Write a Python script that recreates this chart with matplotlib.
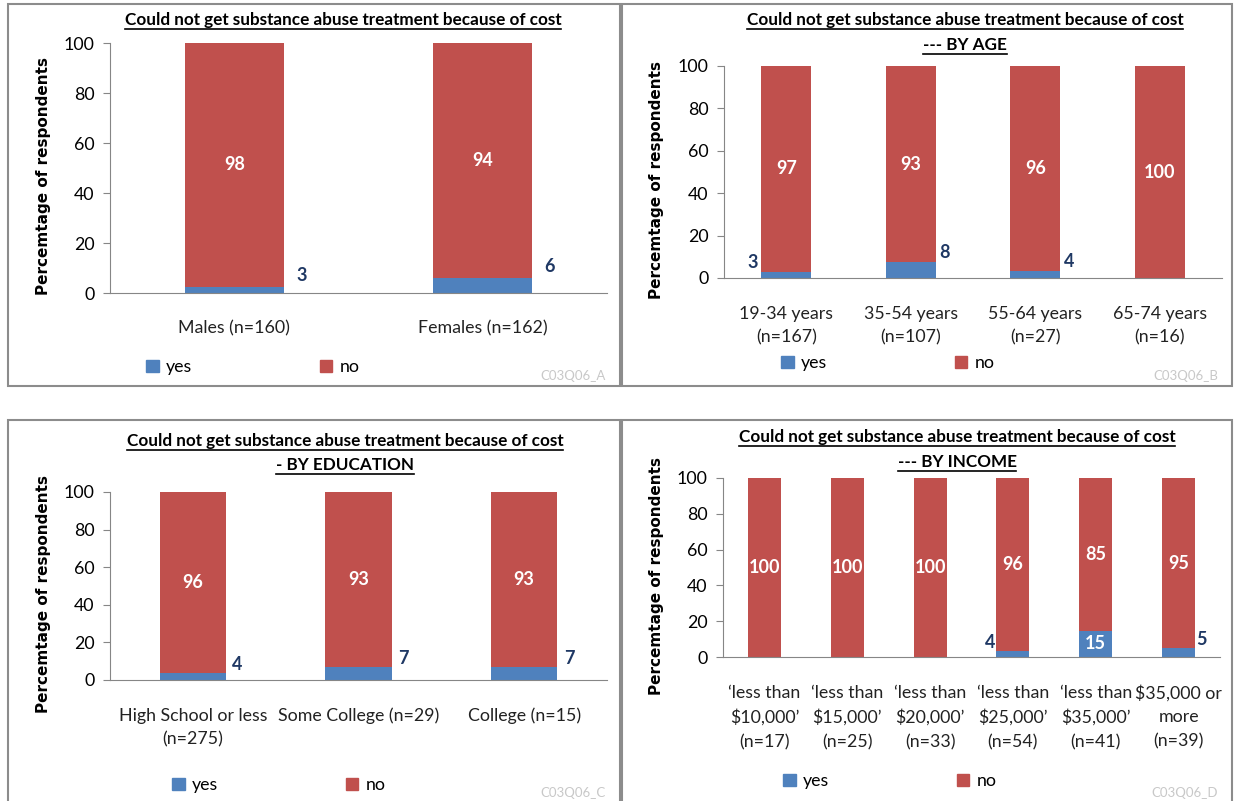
import matplotlib
matplotlib.use("Agg")
import matplotlib.pyplot as plt
from matplotlib.patches import Rectangle, Patch
from matplotlib.lines import Line2D
import numpy as np

# data (percent of respondents)
gender_cats = ["Males (n=160)", "Females (n=162)"]
gender_yes = [2.5, 6.0]
gender_no = [97.5, 94.0]
gender_yes_lbl = ["3", "6"]
gender_no_lbl = ["98", "94"]

age_cats = ["19-34 years\n(n=167)", "35-54 years\n(n=107)", "55-64 years\n(n=27)", "65-74 years\n(n=16)"]
age_yes = [3.0, 7.5, 3.5, 0.0]
age_no = [97.0, 92.5, 96.5, 100.0]
age_yes_lbl = ["3", "8", "4", ""]
age_no_lbl = ["97", "93", "96", "100"]

edu_cats = ["High School or less\n(n=275)", "Some College (n=29)", "College (n=15)"]
edu_yes = [3.6, 6.9, 6.7]
edu_no = [96.4, 93.1, 93.3]
edu_yes_lbl = ["4", "7", "7"]
edu_no_lbl = ["96", "93", "93"]

inc_cats = ["\u2018less than\n$10,000\u2019\n(n=17)", "\u2018less than\n$15,000\u2019\n(n=25)",
            "\u2018less than\n$20,000\u2019\n(n=33)", "\u2018less than\n$25,000\u2019\n(n=54)",
            "\u2018less than\n$35,000\u2019\n(n=41)", "$35,000 or\nmore\n(n=39)"]
inc_yes = [0.0, 0.0, 0.0, 3.5, 14.5, 5.0]
inc_no = [100.0, 100.0, 100.0, 96.5, 85.5, 95.0]
inc_yes_lbl = ["", "", "", "4", "15", "5"]
inc_no_lbl = ["100", "100", "100", "96", "85", "95"]

BLUE = "#4F81BD"
RED = "#C0504D"
DARK = "#1F3864"
GRAY = "#868686"
FONT = "Lato"

W, H = 1234, 801
fig = plt.figure(figsize=(W / 100, H / 100), dpi=100)


def fx(px):
    return px / W


def fy(py):
    return 1 - py / H


def underline_title(lines, cx, ys):
    fig.canvas.draw()
    r = fig.canvas.get_renderer()
    for s, y in zip(lines, ys):
        t = fig.text(fx(cx), fy(y), s, ha="center", va="center",
                     fontsize=12.3, fontweight="bold", family=FONT)
        bb = t.get_window_extent(renderer=r)
        fig.add_artist(Line2D([bb.x0 / W, bb.x1 / W], [(bb.y0 - 1) / H, (bb.y0 - 1) / H],
                              color="black", lw=1.2))


def panel(box, axbox, cats, yes, no, yes_lbl, no_lbl, sides, title, title_ys, cx,
          leg_xy, code, ylab_x):
    # border of the panel
    x0, y0, x1, y1 = box
    fig.add_artist(Rectangle((fx(x0), fy(y1)), fx(x1 - x0), (y1 - y0) / H,
                             fill=False, edgecolor="#8c8c8c", lw=1.5))
    l, t, r, b = axbox
    ax = fig.add_axes([fx(l), fy(b), fx(r - l), (b - t) / H])
    x = np.arange(len(cats))
    ax.bar(x, yes, 0.4, color=BLUE)
    ax.bar(x, no, 0.4, bottom=yes, color=RED)
    ax.set_xlim(-0.5, len(cats) - 0.5)
    ax.set_ylim(0, 100)
    ax.set_yticks(range(0, 101, 20))
    ax.set_xticks(x)
    ax.set_xticklabels(cats, family=FONT, fontsize=12.8, color="#222222", linespacing=1.6)
    ax.tick_params(axis="x", length=0, pad=20)
    ax.tick_params(axis="y", length=5, color=GRAY, labelsize=12.8, pad=6)
    for lab in ax.get_yticklabels():
        lab.set_family(FONT)
    for s in ["top", "right"]:
        ax.spines[s].set_visible(False)
    for s in ["left", "bottom"]:
        ax.spines[s].set_color(GRAY)
    for i in range(len(cats)):
        if no_lbl[i]:
            ax.text(x[i], yes[i] + no[i] / 2, no_lbl[i], ha="center", va="center",
                    color="white", fontsize=13, fontweight="bold", family=FONT)
        if yes_lbl[i]:
            if sides[i] == 0:
                ax.text(x[i], yes[i] / 2 + 0.5, yes_lbl[i], ha="center", va="center",
                        color="white", fontsize=13, fontweight="bold", family=FONT)
            else:
                ax.text(x[i] + sides[i] * 0.27, yes[i] + 4.5, yes_lbl[i], ha="center",
                        va="center", color=DARK, fontsize=13, fontweight="bold", family=FONT)
    fig.text(fx(ylab_x), (fy(b) + fy(t)) / 2 - 0.01, "Percemtage of respondents", rotation=90,
             ha="center", va="center", fontsize=11, fontweight="bold")
    underline_title(title, cx, title_ys)
    handles = [Patch(color=BLUE, label="yes"), Patch(color=RED, label="no")]
    fig.legend(handles=handles, loc="center left", bbox_to_anchor=(fx(leg_xy[0]), fy(leg_xy[1])),
               ncol=2, frameon=False, handlelength=0.7, handleheight=0.7, handletextpad=0.4,
               columnspacing=7.2, prop={"family": FONT, "size": 12.8}, borderaxespad=0)
    fig.text(fx(x1 - 14), fy(y1 - 10), code, ha="right", va="center", color="#c8c8c8",
             fontsize=9.5, family=FONT)
    return ax


title = "Could not get substance abuse treatment because of cost"

panel((8, 4, 620, 386), (110, 43, 607, 293), gender_cats, gender_yes, gender_no,
      gender_yes_lbl, gender_no_lbl, [1, 1], [title], [20], 343, (139, 367), "C03Q06_A", 44)

panel((622, 4, 1232, 386), (724, 66, 1222, 278), age_cats, age_yes, age_no,
      age_yes_lbl, age_no_lbl, [-1, 1, 1, 1], [title, "--- BY AGE"], [20, 45], 965,
      (774, 363), "C03Q06_B", 657)

panel((8, 420, 620, 803), (110, 492, 607, 680), edu_cats, edu_yes, edu_no,
      edu_yes_lbl, edu_no_lbl, [1, 1, 1], [title, "- BY EDUCATION"], [441, 465], 345,
      (165, 785), "C03Q06_C", 44)

panel((622, 420, 1232, 803), (723, 478, 1220, 657), inc_cats, inc_yes, inc_no,
      inc_yes_lbl, inc_no_lbl, [1, 1, 1, -1, 0, 1], [title, "--- BY INCOME"], [437, 462], 957,
      (776, 781), "C03Q06_D", 657)

fig.savefig("out.png", dpi=100, facecolor="white")
